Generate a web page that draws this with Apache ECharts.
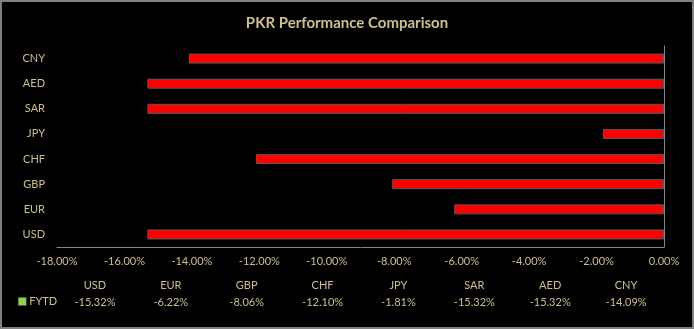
<!DOCTYPE html>
<html><head><meta charset="utf-8">
<script src="https://cdn.jsdelivr.net/npm/echarts@6/dist/echarts.min.js"></script>
<style>html,body{margin:0;padding:0;background:#000;}#c{width:694px;height:329px;}</style>
</head><body><div id="c"></div>
<script>
var categories = ['USD','EUR','GBP','CHF','JPY','SAR','AED','CNY'];
var fytd = [-15.32,-6.22,-8.06,-12.10,-1.81,-15.32,-15.32,-14.09];
var seriesName = 'FYTD';
var xTicks = {min:-18, max:0, interval:2};
var txt = '#cdbf93';
var font = 'Lato';
var chart = echarts.init(document.getElementById('c'));
chart.setOption({
  backgroundColor:'#000',
  animation:false,
  title:{text:'PKR Performance Comparison',left:'center',top:11,
    textStyle:{color:txt,fontSize:15,fontWeight:'bold',fontFamily:font}},
  legend:{show:true,left:18,top:296,itemWidth:8,itemHeight:8,icon:'rect',
    data:[{name:seriesName,itemStyle:{color:'#92d050',borderColor:'#595959',borderWidth:0.5}}],
    textStyle:{color:txt,fontSize:11,fontFamily:font,padding:[0,0,0,-2]},padding:0},
  graphic:[{type:'rect',shape:{x:1,y:1,width:692,height:327},style:{fill:null,stroke:'#7f7f7f',lineWidth:2},silent:true,z:100}],
  grid:[{left:57,right:30,top:46,bottom:82},{left:57,right:30,top:270,height:1}],
  xAxis:[{type:'value',gridIndex:0,min:xTicks.min,max:xTicks.max,interval:xTicks.interval,
    splitLine:{show:false},axisTick:{show:false},
    axisLine:{show:true,onZero:false,lineStyle:{color:'#868686',width:1}},
    axisLabel:{color:txt,fontSize:11,fontFamily:font,margin:9,formatter:function(v){return v.toFixed(2)+'%';}}},
    {type:'category',gridIndex:1,data:categories,position:'bottom',
    axisLine:{show:false},axisTick:{show:false},splitLine:{show:false},
    axisLabel:{interval:0,margin:6,fontFamily:font,color:txt,
      formatter:function(v,i){return '{h|'+v+'}\n{v|'+fytd[i].toFixed(2)+'%}';},
      rich:{h:{color:txt,fontSize:11,fontFamily:font,lineHeight:17},v:{color:txt,fontSize:11,fontFamily:font,lineHeight:17}}}}],
  yAxis:[{type:'category',gridIndex:0,data:categories,position:'left',
    axisLine:{show:false},axisTick:{show:false},
    axisLabel:{color:txt,fontSize:11,fontFamily:font,margin:12}},
    {type:'category',gridIndex:0,data:categories,position:'right',
    axisLine:{show:true,lineStyle:{color:'#868686',width:1}},axisTick:{show:false},axisLabel:{show:false}},
    {type:'value',gridIndex:1,show:false}],
  series:[{name:seriesName,type:'bar',xAxisIndex:0,yAxisIndex:0,data:fytd,barWidth:10,
    itemStyle:{color:'#ff0000',borderColor:'#595959',borderWidth:1}}]
});
</script></body></html>
